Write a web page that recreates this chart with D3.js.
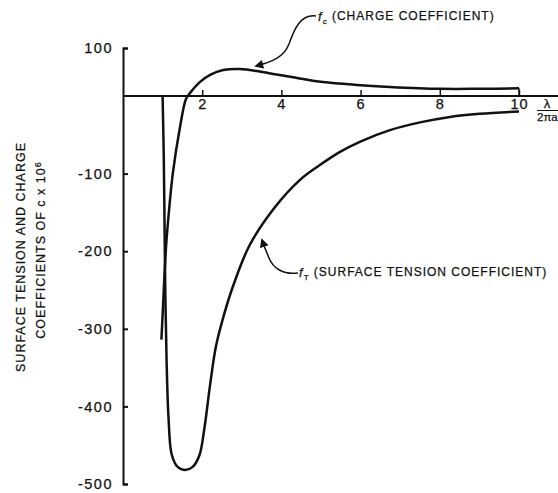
<!DOCTYPE html>
<html>
<head>
<meta charset="utf-8">
<script src="https://cdn.jsdelivr.net/npm/d3@7"></script>
<style>
  body { margin: 0; background: #fff; }
  svg { display: block; }
  text { font-family: "Liberation Sans", Arial, sans-serif; fill: #111; stroke: #111; stroke-width: 0.25px; }
</style>
</head>
<body>
<div id="chart"></div>
<script>
// values: x is lambda / (2 pi a), y is coefficient x 10^6
const xTicks = [2, 4, 6, 8, 10];
const yTicks = [100, -100, -200, -300, -400, -500];

const fT_lambda = [1.0, 1.03, 1.05, 1.07, 1.10, 1.15, 1.23, 1.38, 1.57, 1.76, 1.93, 2.05, 2.20, 2.35, 2.55, 2.80, 3.20, 3.84, 4.47, 4.97, 5.48, 5.98, 6.74, 7.50, 8.26, 9.01, 10.0];
const fT_value  = [0, -80, -170, -260, -340, -415, -462, -478, -482, -478, -463, -430, -372, -322, -282, -242, -192, -143, -108, -89, -72, -59, -44, -34, -27, -23, -20];

const fC_lambda = [0.97, 1.01, 1.05, 1.09, 1.14, 1.26, 1.44, 1.59, 1.69, 1.94, 2.20, 2.53, 2.95, 3.38, 3.79, 4.22, 5.05, 5.91, 6.74, 8.0, 9.0, 10.0];
const fC_value  = [-314, -272, -228, -192, -160, -99, -40, -4, 6, 29, 44, 54, 56, 52, 46, 40, 29, 23, 19, 15, 15, 16];

const W = 558, H = 493;

const svg = d3.select("#chart").append("svg")
  .attr("width", W)
  .attr("height", H);

const x = d3.scaleLinear().domain([0, 10]).range([123, 519]);
// the printed axis is squeezed above zero
const y = d3.scaleLinear().domain([-500, 0, 100]).range([484, 96, 48]);

// arrow head
svg.append("defs").append("marker")
  .attr("id", "head")
  .attr("viewBox", "0 0 10 10")
  .attr("refX", 8).attr("refY", 5)
  .attr("markerWidth", 9).attr("markerHeight", 9)
  .attr("markerUnits", "userSpaceOnUse")
  .attr("orient", "auto")
  .append("path")
  .attr("d", "M0,0 L10,5 L0,10 z")
  .attr("fill", "#111");

// Y axis
const yAxis = svg.append("g")
  .attr("transform", "translate(" + x(0) + ",0)")
  .call(d3.axisLeft(y).tickValues(yTicks).tickSize(-5).tickSizeOuter(-5).tickPadding(10)
    .tickFormat(d => d < 0 ? "-" + Math.abs(d) : d));
yAxis.select(".domain").attr("stroke", "#111").attr("stroke-width", 2);
yAxis.selectAll(".tick line").attr("stroke", "#111").attr("stroke-width", 2);
yAxis.selectAll("text")
  .style("font-size", "14.5px")
  .style("letter-spacing", "1.5px")
  .style("fill", "#111");

// X axis (line runs out to the edge, ticks point up)
svg.append("line")
  .attr("x1", x(0)).attr("x2", W)
  .attr("y1", y(0)).attr("y2", y(0))
  .attr("stroke", "#111").attr("stroke-width", 2);

const xAxis = svg.append("g")
  .attr("transform", "translate(0," + y(0) + ")")
  .call(d3.axisBottom(x).tickValues(xTicks).tickSize(-6).tickPadding(3));
xAxis.select(".domain").remove();
xAxis.selectAll(".tick line").attr("stroke", "#111").attr("stroke-width", 1.5);
xAxis.selectAll("text")
  .style("font-size", "14.5px")
  .style("letter-spacing", "1px")
  .style("fill", "#111");

// lambda / 2 pi a
svg.append("text").attr("x", 547).attr("y", 108)
  .attr("text-anchor", "middle").style("font-size", "13px").text("λ");
svg.append("line")
  .attr("x1", 537).attr("x2", 558).attr("y1", 110.5).attr("y2", 110.5)
  .attr("stroke", "#111").attr("stroke-width", 1);
svg.append("text").attr("x", 537).attr("y", 121)
  .style("font-size", "11.5px").text("2πa");

// Y title, two rotated lines
const yTitle = svg.append("g");
yTitle.append("text")
  .attr("transform", "translate(25,257) rotate(-90)")
  .attr("text-anchor", "middle")
  .style("font-size", "12.5px")
  .style("letter-spacing", "1px")
  .text("SURFACE TENSION AND CHARGE");
const t2 = yTitle.append("text")
  .attr("transform", "translate(45,250) rotate(-90)")
  .attr("text-anchor", "middle")
  .style("font-size", "12.5px")
  .style("letter-spacing", "1px");
t2.append("tspan").text("COEFFICIENTS OF c x 10");
t2.append("tspan").attr("dy", "-0.45em").style("font-size", "9px").text("6");

// curves
const line = d3.line()
  .x(d => x(d[0]))
  .y(d => y(d[1]))
  .curve(d3.curveCatmullRom.alpha(0.5));

svg.append("path")
  .datum(d3.zip(fT_lambda, fT_value))
  .attr("d", line)
  .attr("fill", "none")
  .attr("stroke", "#111")
  .attr("stroke-width", 2.5);

svg.append("path")
  .datum(d3.zip(fC_lambda, fC_value))
  .attr("d", line)
  .attr("fill", "none")
  .attr("stroke", "#111")
  .attr("stroke-width", 2.5);

// tick at 10 joins the charge curve
svg.append("line")
  .attr("x1", x(10)).attr("x2", x(10))
  .attr("y1", y(0)).attr("y2", y(fC_value[fC_value.length - 1]))
  .attr("stroke", "#111").attr("stroke-width", 1.5);

// annotations
function label(xp, yp, sub, rest) {
  const t = svg.append("text").attr("x", xp).attr("y", yp)
    .style("font-size", "12px")
    .style("letter-spacing", "1px");
  t.append("tspan").style("font-style", "italic").style("font-size", "13px").text("f");
  t.append("tspan").attr("dy", "0.35em").style("font-size", "8px").text(sub);
  t.append("tspan").attr("dy", "-0.35em").text(" " + rest);
}

label(318, 21, "c", "(CHARGE COEFFICIENT)");
svg.append("path")
  .attr("d", "M316,16 C300,14 294,30 289,44 C284,57 272,62 256,66")
  .attr("fill", "none").attr("stroke", "#111").attr("stroke-width", 1.5)
  .attr("marker-end", "url(#head)");

label(299, 277, "T", "(SURFACE TENSION COEFFICIENT)");
svg.append("path")
  .attr("d", "M298,273 C283,275 273,268 269,258 C266,251 264,246 262,240")
  .attr("fill", "none").attr("stroke", "#111").attr("stroke-width", 1.5)
  .attr("marker-end", "url(#head)");
</script>
</body>
</html>
